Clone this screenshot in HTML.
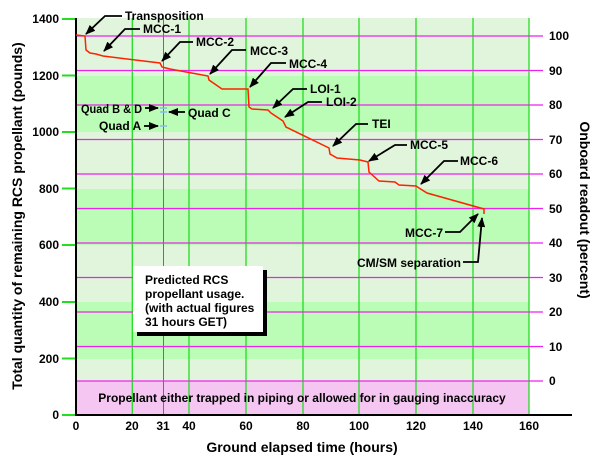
<!DOCTYPE html>
<html><head><meta charset="utf-8"><style>
html,body{margin:0;padding:0;background:#fff;}
svg{display:block;font-family:"Liberation Sans",Arial,sans-serif;font-weight:bold;}
</style></head><body>
<svg width="602" height="467" viewBox="0 0 602 467" xmlns="http://www.w3.org/2000/svg">
<defs>
<marker id="ah" markerWidth="10" markerHeight="8" refX="9" refY="4" orient="auto" markerUnits="userSpaceOnUse">
<path d="M0,0 L10,4 L0,8 z" fill="#000"/>
</marker>
</defs>
<rect x="76" y="18" width="453" height="58" fill="#e0f5dc"/>
<rect x="76" y="76" width="453" height="56" fill="#bbfcb6"/>
<rect x="76" y="132" width="453" height="57" fill="#e0f5dc"/>
<rect x="76" y="189" width="453" height="56" fill="#bbfcb6"/>
<rect x="76" y="245" width="453" height="57" fill="#e0f5dc"/>
<rect x="76" y="302" width="453" height="57" fill="#bbfcb6"/>
<rect x="76" y="359" width="453" height="22" fill="#e0f5dc"/>
<rect x="76" y="381" width="453" height="34" fill="#f5c6f2"/>
<g stroke="#22dd22" stroke-width="1.3">
<line x1="132.3" y1="18" x2="132.3" y2="415"/>
<line x1="189" y1="18" x2="189" y2="415"/>
<line x1="246" y1="18" x2="246" y2="415"/>
<line x1="303" y1="18" x2="303" y2="415"/>
<line x1="359" y1="18" x2="359" y2="415"/>
<line x1="416" y1="18" x2="416" y2="415"/>
<line x1="473" y1="18" x2="473" y2="415"/>
<line x1="529" y1="18" x2="529" y2="415"/>
</g>
<line x1="163.5" y1="18" x2="163.5" y2="415" stroke="#5566ee" stroke-width="1"/>
<g stroke="#ee22ee" stroke-width="1.3">
<line x1="76" y1="36" x2="543" y2="36"/>
<line x1="76" y1="70.5" x2="543" y2="70.5"/>
<line x1="76" y1="105" x2="543" y2="105"/>
<line x1="76" y1="139.5" x2="543" y2="139.5"/>
<line x1="76" y1="174" x2="543" y2="174"/>
<line x1="76" y1="208.5" x2="543" y2="208.5"/>
<line x1="76" y1="243" x2="543" y2="243"/>
<line x1="76" y1="277.5" x2="543" y2="277.5"/>
<line x1="76" y1="312" x2="543" y2="312"/>
<line x1="76" y1="346.5" x2="543" y2="346.5"/>
<line x1="76" y1="381" x2="543" y2="381"/>
</g>
<line x1="76" y1="18" x2="76" y2="416" stroke="#000" stroke-width="2"/>
<line x1="75" y1="415" x2="572" y2="415" stroke="#000" stroke-width="2"/>
<g stroke="#22dd22" stroke-width="2">
<line x1="62" y1="19" x2="75" y2="19"/><line x1="62" y1="75.5" x2="75" y2="75.5"/>
<line x1="62" y1="132" x2="75" y2="132"/><line x1="62" y1="188.5" x2="75" y2="188.5"/>
<line x1="62" y1="245" x2="75" y2="245"/><line x1="62" y1="302" x2="75" y2="302"/>
<line x1="62" y1="358.5" x2="75" y2="358.5"/><line x1="62" y1="415" x2="75" y2="415"/>
</g>
<g font-size="12" text-anchor="end">
<text x="59" y="23">1400</text><text x="59" y="80">1200</text><text x="59" y="136">1000</text>
<text x="59" y="193">800</text><text x="59" y="249">600</text><text x="59" y="306">400</text>
<text x="59" y="363">200</text><text x="59" y="419">0</text>
</g>
<g font-size="12" text-anchor="start">
<text x="549" y="40">100</text><text x="549" y="75">90</text><text x="549" y="109">80</text>
<text x="549" y="144">70</text><text x="549" y="178">60</text><text x="549" y="213">50</text>
<text x="549" y="247">40</text><text x="549" y="282">30</text><text x="549" y="316">20</text>
<text x="549" y="351">10</text><text x="549" y="385">0</text>
</g>
<g font-size="12" text-anchor="middle">
<text x="76" y="430">0</text><text x="132" y="430">20</text><text x="163" y="430">31</text>
<text x="189" y="430">40</text><text x="246" y="430">60</text><text x="303" y="430">80</text>
<text x="359" y="430">100</text><text x="416" y="430">120</text><text x="473" y="430">140</text>
<text x="529" y="430">160</text>
</g>
<text x="302" y="452" font-size="14" text-anchor="middle">Ground elapsed time (hours)</text>
<text transform="translate(22,216) rotate(-90)" font-size="14" text-anchor="middle">Total quantity of remaining RCS propellant (pounds)</text>
<text transform="translate(580,210) rotate(90)" font-size="14" text-anchor="middle">Onboard readout (percent)</text>
<text x="302" y="402" font-size="12" text-anchor="middle">Propellant either trapped in piping or allowed for in gauging inaccuracy</text>
<polyline fill="none" stroke="#ff2200" stroke-width="1.5" points="76,35 85,36 86,50 90,53 96,54 103,56 160,63 162,67 170,69 208,76 209,80 222,89 248,89 249,107 252,109 268,110 271,113 283,121 286,127 329,148 330,154 337,158 360,160 368,162 369,172 379,181 395,182 399,185 416,186 419,188 427,193 484,209 484,214"/>
<g stroke="#88bbee" stroke-width="1.5">
<line x1="160" y1="108" x2="167" y2="108"/><line x1="160" y1="112" x2="167" y2="112"/><line x1="160" y1="126" x2="167" y2="126"/>
</g>
<g fill="none" stroke="#000" stroke-width="1.8" marker-end="url(#ah)">
<polyline points="122,16 105,16 86,34"/>
<polyline points="140,29 125,29 104,51"/>
<polyline points="193,42 180,42 162,61"/>
<polyline points="246,50 232,50 210,74"/>
<polyline points="286,63 271,63 250,87"/>
<polyline points="307,89 293,89 273,108"/>
<polyline points="322,102 308,102 285,117"/>
<polyline points="368,124 356,124 333,146"/>
<polyline points="407,145 395,145 369,161"/>
<polyline points="458,161 444,161 421,184"/>
<polyline points="445,232 460,232 478,214"/>
<polyline points="463,262 478,262 482,218"/>
<polyline points="145,108 158,108"/>
<polyline points="185,112 169,112"/>
<polyline points="144,126 158,126"/>
</g>
<g font-size="12">
<text x="125" y="20">Transposition</text>
<text x="143" y="33">MCC-1</text>
<text x="196" y="46">MCC-2</text>
<text x="250" y="55">MCC-3</text>
<text x="289" y="68">MCC-4</text>
<text x="310" y="93">LOI-1</text>
<text x="326" y="106">LOI-2</text>
<text x="372" y="128">TEI</text>
<text x="410" y="149">MCC-5</text>
<text x="460" y="165">MCC-6</text>
<text x="405" y="237">MCC-7</text>
<text x="357" y="267">CM/SM separation</text>
<text x="81" y="113" textLength="61" lengthAdjust="spacingAndGlyphs">Quad B &amp; D</text>
<text x="188" y="117">Quad C</text>
<text x="99" y="130">Quad A</text>
</g>
<rect x="137" y="270" width="130" height="66" fill="#000"/>
<rect x="133" y="266" width="130" height="66" fill="#fff"/>
<g font-size="12">
<text x="145" y="284">Predicted RCS</text>
<text x="145" y="298">propellant usage.</text>
<text x="145" y="312">(with actual figures</text>
<text x="145" y="326">31 hours GET)</text>
</g>
</svg>
</body></html>
